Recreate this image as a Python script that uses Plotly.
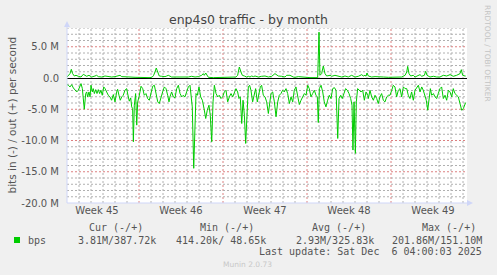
import plotly.graph_objects as go
import pandas as pd

# ---------------- data ----------------
START = pd.Timestamp("2025-11-04 00:00")
SPAN_DAYS = 400 / 12.0

# inbound traffic (plotted negative), Mbit/s, x in days from START
in_days = [0.0, 0.11, 0.25, 0.39, 0.53, 0.67, 0.81, 0.94, 1.08, 1.17, 1.28, 1.36, 1.44, 1.56, 1.64,
           1.72, 1.83, 1.92, 2.0, 2.11, 2.19, 2.28, 2.39, 2.5, 2.61, 2.72, 2.83, 2.94, 3.06, 3.17,
           3.31, 3.44, 3.58, 3.72, 3.86, 4.0, 4.14, 4.22, 4.33, 4.44, 4.56, 4.69, 4.83, 4.97, 5.11,
           5.19, 5.31, 5.39, 5.47, 5.53, 5.61, 5.72, 5.81, 5.89, 6.0, 6.17, 6.31, 6.44, 6.58, 6.72,
           6.86, 7.0, 7.14, 7.28, 7.42, 7.56, 7.69, 7.83, 7.97, 8.11, 8.25, 8.39, 8.5, 8.58, 8.72,
           8.86, 9.0, 9.14, 9.28, 9.42, 9.56, 9.69, 9.83, 9.97, 10.11, 10.25, 10.33, 10.44, 10.56,
           10.67, 10.75, 10.86, 11.0, 11.14, 11.28, 11.42, 11.56, 11.69, 11.83, 11.94, 12.06, 12.17,
           12.28, 12.42, 12.56, 12.69, 12.83, 12.97, 13.11, 13.25, 13.39, 13.53, 13.67, 13.81, 13.94,
           14.08, 14.22, 14.33, 14.44, 14.56, 14.67, 14.78, 14.89, 15.0, 15.11, 15.22, 15.33, 15.47,
           15.61, 15.72, 15.86, 15.97, 16.11, 16.22, 16.36, 16.5, 16.64, 16.78, 16.86, 17.0, 17.14,
           17.28, 17.42, 17.56, 17.69, 17.83, 17.97, 18.11, 18.25, 18.39, 18.53, 18.67, 18.81, 18.94,
           19.08, 19.22, 19.36, 19.5, 19.64, 19.78, 19.92, 20.06, 20.19, 20.33, 20.47, 20.61, 20.75,
           20.86, 20.94, 21.03, 21.17, 21.31, 21.44, 21.58, 21.72, 21.86, 22.0, 22.14, 22.28, 22.42,
           22.56, 22.67, 22.81, 22.94, 23.08, 23.22, 23.36, 23.5, 23.64, 23.75, 23.83, 23.92, 24.03,
           24.11, 24.22, 24.36, 24.5, 24.64, 24.78, 24.92, 25.06, 25.11, 25.25, 25.39, 25.53, 25.67,
           25.81, 25.94, 26.08, 26.22, 26.36, 26.5, 26.64, 26.78, 26.92, 27.06, 27.19, 27.33, 27.47,
           27.61, 27.75, 27.89, 28.03, 28.17, 28.31, 28.44, 28.58, 28.72, 28.86, 29.0, 29.14, 29.28,
           29.42, 29.56, 29.69, 29.83, 29.94, 30.06, 30.17, 30.28, 30.39, 30.53, 30.67, 30.81, 30.94,
           31.08, 31.22, 31.36, 31.5, 31.64, 31.78, 31.92, 32.06, 32.19, 32.33, 32.47, 32.61, 32.75,
           32.89, 33.03, 33.17, 33.22]
in_mbps = [1.06, 1.16, 1.43, 1.06, 1.59, 1.96, 2.23, 1.96, 1.43, 0.90, 1.70, 3.02, 4.99, 2.49, 2.23,
           3.02, 2.23, 3.02, 1.16, 2.23, 1.70, 2.49, 1.86, 2.49, 1.86, 2.49, 1.96, 2.76, 1.43, 1.70,
           2.23, 2.76, 3.02, 3.56, 2.65, 3.82, 2.23, 1.80, 2.76, 3.56, 3.02, 2.76, 1.96, 1.70, 3.02,
           3.71, 3.18, 4.62, 4.89, 10.2, 4.35, 2.49, 7.54, 3.82, 3.02, 1.32, 1.70, 2.76, 2.49, 3.29,
           3.56, 2.23, 1.32, 1.16, 2.49, 3.82, 4.09, 3.02, 2.23, 1.43, 1.70, 2.76, 3.82, 3.02, 2.23,
           3.02, 3.18, 1.70, 1.16, 2.49, 3.02, 2.76, 3.02, 2.23, 1.43, 1.16, 3.02, 4.62, 14.45,
           4.35, 2.49, 2.76, 1.43, 3.02, 3.56, 4.89, 6.48, 5.15, 4.35, 5.95, 10.2, 3.82,
           1.16, 2.49, 3.02, 2.76, 3.29, 3.02, 2.23, 1.96, 3.82, 3.02, 2.49, 3.02, 2.23,
           1.70, 2.23, 3.29, 3.02, 7.28, 3.56, 5.95, 10.47, 4.35, 1.43, 1.16, 1.96, 3.82,
           2.49, 1.70, 3.82, 2.76, 1.43, 1.16, 2.76, 3.02, 3.82, 5.68, 4.35, 2.49, 2.23,
           3.82, 6.21, 3.82, 2.76, 2.49, 1.96, 2.23, 1.70, 2.49, 4.09, 3.02, 3.82, 1.96,
           1.43, 2.76, 4.25, 3.56, 3.02, 2.49, 2.76, 1.16, 1.70, 3.02, 2.49, 1.96, 2.76,
           3.02, 7.12, 1.70, 1.16, 2.23, 3.82, 4.62, 3.56, 2.76, 3.29, 1.70, 1.54, 1.96,
           9.67, 3.29, 2.76, 3.29, 2.49, 1.70, 1.96, 2.49, 3.29, 4.35, 11.53, 3.82, 12.06,
           3.82, 1.70, 1.96, 2.23, 1.96, 3.56, 2.23, 2.76, 3.29, 1.96, 3.02, 3.56, 2.76,
           3.29, 4.09, 3.02, 2.49, 3.56, 3.82, 3.02, 2.76, 2.76, 1.96, 1.16, 1.43, 3.02,
           1.96, 1.70, 3.02, 1.43, 1.70, 1.70, 2.76, 3.29, 2.23, 3.56, 1.96, 1.43, 1.16,
           2.23, 1.43, 1.96, 3.02, 3.56, 5.15, 2.76, 1.70, 2.76, 2.49, 3.02, 3.29, 2.49,
           1.70, 1.43, 3.29, 2.76, 3.56, 1.96, 2.23, 3.02, 1.70, 2.49, 2.76, 3.02, 4.09,
           5.15, 4.89, 4.35, 3.93]

# outbound traffic (plotted positive), Mbit/s
out_days = [0.0, 0.11, 0.25, 0.36, 0.47, 0.61, 0.75, 0.94, 1.17, 1.36, 1.5, 1.64, 1.83, 2.06, 2.33,
            2.47, 2.61, 2.89, 3.17, 3.44, 3.72, 4.0, 4.28, 4.42, 4.56, 4.83, 5.25, 5.67, 6.08, 6.5,
            6.92, 7.11, 7.22, 7.33, 7.44, 7.56, 7.69, 7.89, 8.17, 8.31, 8.44, 8.72, 9.0, 9.28, 9.56,
            9.83, 10.11, 10.39, 10.67, 10.94, 11.22, 11.36, 11.44, 11.56, 11.67, 11.78, 12.19, 12.75,
            13.31, 13.86, 14.08, 14.22, 14.36, 14.5, 14.61, 14.78, 14.97, 15.11, 15.25, 15.39, 15.53,
            15.67, 15.94, 16.22, 16.5, 16.78, 17.06, 17.33, 17.47, 17.61, 17.89, 18.17, 18.31, 18.58,
            18.86, 19.0, 19.28, 19.56, 19.83, 20.25, 20.67, 20.89, 21.0, 21.08, 21.22, 21.36, 21.5,
            21.64, 21.92, 22.06, 22.33, 22.61, 22.89, 23.17, 23.44, 23.72, 24.0, 24.28, 24.56, 24.69,
            24.83, 24.92, 25.0, 25.11, 25.39, 25.67, 25.94, 26.36, 26.78, 27.19, 27.61, 27.89, 28.17,
            28.31, 28.39, 28.5, 28.64, 28.86, 29.0, 29.28, 29.42, 29.56, 29.78, 29.89, 30.0, 30.25,
            30.53, 30.81, 31.08, 31.36, 31.64, 31.92, 32.19, 32.47, 32.75, 32.86, 32.97, 33.17, 33.22]
out_mbps = [0.16, 0.43, 0.70, 1.39, 0.70, 0.32, 0.43, 0.27, 0.16, 0.59, 0.43, 0.27, 0.43, 0.16, 0.32,
            0.43, 0.22, 0.16, 0.32, 0.22, 0.16, 0.22, 0.32, 0.43, 0.22, 0.16, 0.16, 0.11, 0.06, 0.06,
            0.06, 0.16, 0.43, 0.96, 1.60, 0.96, 0.32, 0.27, 0.22, 0.32, 0.43, 0.16, 0.16, 0.11, 0.22,
            0.16, 0.16, 0.27, 0.16, 0.22, 0.43, 0.70, 0.43, 0.80, 0.32, 0.11, 0.06, 0.06,
            0.06, 0.06, 0.16, 0.43, 1.76, 0.96, 0.43, 0.32, 0.16, 0.27, 0.16, 0.32, 0.22,
            0.32, 0.16, 0.27, 0.32, 0.16, 0.27, 0.70, 0.54, 0.32, 0.27, 0.16, 0.43, 0.43,
            0.16, 0.11, 0.22, 0.16, 0.11, 0.06, 0.06, 0.06, 7.34, 0.43, 0.70, 1.92, 0.70,
            0.32, 0.43, 0.27, 0.43, 0.27, 0.16, 0.32, 0.16, 0.43, 0.16, 0.27, 0.54, 0.32,
            0.43, 0.30, 0.80, 0.32, 0.16, 0.22, 0.16, 0.16, 0.11, 0.11, 0.11, 0.16, 0.43,
            0.96, 1.86, 0.70, 0.32, 0.43, 0.16, 0.43, 0.54, 0.27, 0.43, 1.07, 0.43, 0.16,
            0.27, 0.16, 0.16, 0.43, 0.32, 0.54, 0.27, 0.43, 0.70, 1.33, 0.43, 0.32, 0.32]

y_tick_vals = [5e6, 0, -5e6, -10e6, -15e6, -20e6]
y_tick_text = ["5.0 M", "0.0", "-5.0 M", "-10.0 M", "-15.0 M", "-20.0 M"]

title_text = "enp4s0 traffic - by month"
y_title = "bits in (-) / out (+) per second"
series_name = "bps"
legend_headers = ["Cur (-/+)", "Min (-/+)", "Avg (-/+)", "Max (-/+)"]
legend_values = ["3.81M/387.72k", "414.20k/ 48.65k", "2.93M/325.83k", "201.86M/151.10M"]
last_update = "Last update: Sat Dec  6 04:00:03 2025"
credit = "RRDTOOL / TOBI OETIKER"
version = "Munin 2.0.73"

# ---------------- layout geometry ----------------
W, H = 497, 275
L, T, PW, PH = 67, 28, 400, 175
R, B = W - L - PW, H - T - PH
Y_MIN, Y_MAX = -20e6, 8e6

GREEN = "#00CC00"
FONT = "#555555"
AXIS = "#CFD6F8"
MINOR = "#B0B0B0"
MAJOR = "#DC8080"
SANS = "DejaVu Sans"
MONO = "DejaVu Sans Mono"
DASH = "2px,2px"


def px(xp):
    return (xp - L) / PW


def py(yp):
    return (T + PH - yp) / PH


in_x = [START + pd.Timedelta(days=d) for d in in_days]
out_x = [START + pd.Timedelta(days=d) for d in out_days]

fig = go.Figure()
fig.add_trace(go.Scatter(x=in_x, y=[-v * 1e6 for v in in_mbps], mode="lines",
                         line=dict(color=GREEN, width=1), hoverinfo="skip", showlegend=False))
fig.add_trace(go.Scatter(x=out_x, y=[v * 1e6 for v in out_mbps], mode="lines",
                         line=dict(color=GREEN, width=1), hoverinfo="skip", showlegend=False))

DAY_MS = 86400000
fig.update_layout(
    width=W, height=H,
    margin=dict(l=L, r=R, t=T, b=B, pad=0),
    paper_bgcolor="#F0F0F0", plot_bgcolor="#FFFFFF",
    showlegend=False,
    xaxis=dict(
        type="date",
        range=[START, START + pd.Timedelta(days=SPAN_DAYS)],
        tick0="2025-11-03", dtick=7 * DAY_MS,
        ticklabelmode="period", tickformat="Week %V",
        showgrid=False, ticks="", showline=False, zeroline=False,
        tickfont=dict(family=SANS, size=10, color=FONT),
        fixedrange=True,
    ),
    yaxis=dict(
        range=[Y_MIN, Y_MAX],
        tickmode="array", tickvals=y_tick_vals, ticktext=y_tick_text,
        showgrid=False,
        zeroline=True, zerolinecolor="#000000", zerolinewidth=1,
        ticks="outside", ticklen=5, tickcolor="rgba(0,0,0,0)",
        showline=False,
        tickfont=dict(family=SANS, size=10, color=FONT),
        fixedrange=True,
    ),
)

shapes = []
# grid: daily verticals (weekly boundaries red), 1M horizontals (5M red)
week0 = pd.Timestamp("2025-11-03")
n_days = int(SPAN_DAYS)
for d in range(1, n_days + 1):
    t = START + pd.Timedelta(days=d)
    major = ((t - week0).days % 7) == 0
    shapes.append(dict(type="line", xref="x", yref="paper", x0=t, x1=t, y0=0, y1=1,
                       line=dict(color=MAJOR if major else MINOR, width=1, dash=DASH),
                       layer="below"))
for m in range(-19, 9):
    if m == 0:
        continue
    major = (m % 5) == 0
    shapes.append(dict(type="line", xref="paper", yref="y", x0=0, x1=1, y0=m * 1e6, y1=m * 1e6,
                       line=dict(color=MAJOR if major else MINOR, width=1, dash=DASH),
                       layer="below"))

# axes and arrows
shapes.append(dict(type="line", xref="paper", yref="paper", x0=0, x1=0, y0=0, y1=py(24),
                   line=dict(color=AXIS, width=1), layer="above"))
shapes.append(dict(type="line", xref="paper", yref="paper", x0=0, x1=px(470), y0=0, y1=0,
                   line=dict(color=AXIS, width=1), layer="above"))
shapes.append(dict(type="path", xref="paper", yref="paper",
                   path=f"M {px(64)} {py(27)} L {px(67)} {py(21)} L {px(70)} {py(27)} Z",
                   fillcolor=AXIS, line=dict(color=AXIS, width=0), layer="above"))
shapes.append(dict(type="path", xref="paper", yref="paper",
                   path=f"M {px(467)} {py(200)} L {px(473)} {py(203)} L {px(467)} {py(206)} Z",
                   fillcolor=AXIS, line=dict(color=AXIS, width=0), layer="above"))
# legend swatch
shapes.append(dict(type="rect", xref="paper", yref="paper",
                   x0=px(14), x1=px(20), y0=py(243), y1=py(237),
                   fillcolor=GREEN, line=dict(width=0)))
fig.update_layout(shapes=shapes)

ann = []


def add_text(text, xp, yp, size, family=SANS, color=FONT, xanchor="center", angle=0):
    ann.append(dict(text=text, x=px(xp), y=py(yp), xref="paper", yref="paper",
                    xanchor=xanchor, yanchor="middle", showarrow=False, textangle=angle,
                    borderpad=0, font=dict(family=family, size=size, color=color)))


add_text(title_text, 248.5, 19.5, 12.5, color="#444444")
add_text(y_title, 11.5, 115, 10.5, angle=-90)
add_text(credit, 488, 53, 7.5, color="#C4C4C4", angle=90)

header_centers = [115.5, 227, 338.7, 449.3]
value_right = [157.3, 266.7, 375, 482.7]
for h, c in zip(legend_headers, header_centers):
    add_text(h, c, 227.5, 10, family=MONO)
add_text(series_name, 27, 240, 10, family=MONO, xanchor="left")
for v, r in zip(legend_values, value_right):
    add_text(v, r, 240, 10, family=MONO, xanchor="right")
add_text(last_update, 482.7, 251.5, 10, family=MONO, xanchor="right")
add_text(version, 247.8, 264.5, 7.5, color="#C8C8C8")

fig.update_layout(annotations=ann)

fig.write_html("out.html")
